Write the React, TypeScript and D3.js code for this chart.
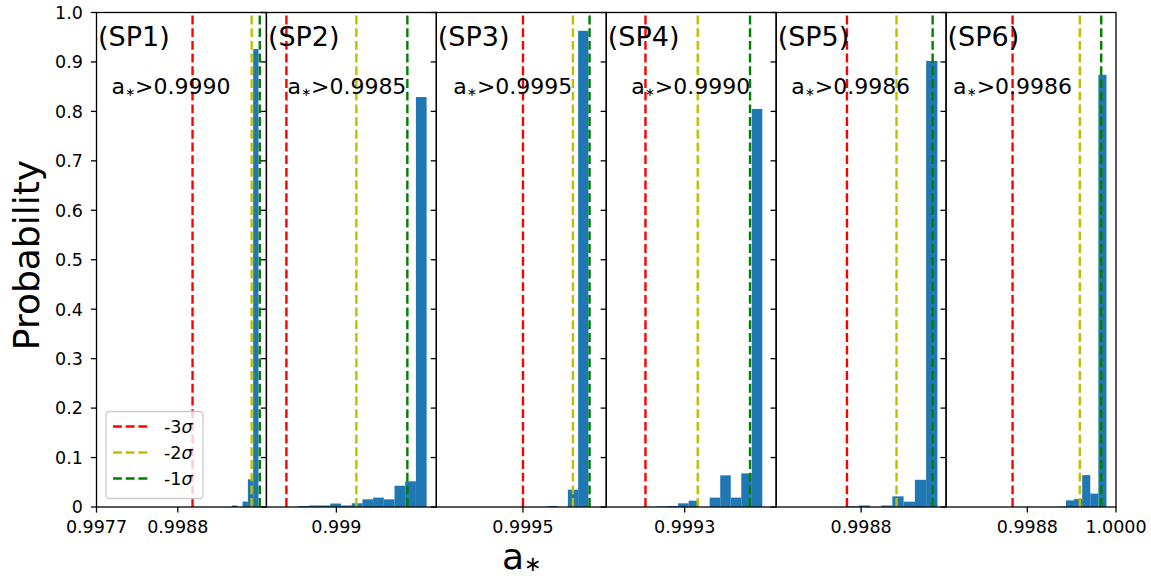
import React from 'react';
import * as d3 from 'd3';

// panel names and the a* cut printed in each panel
const panelNames = ['(SP1)', '(SP2)', '(SP3)', '(SP4)', '(SP5)', '(SP6)'];
const cutLabels = ['0.9990', '0.9985', '0.9995', '0.9990', '0.9986', '0.9986'];

// x limits of each panel
const xDomains: [number, number][] = [
  [0.9977, 1.0],
  [0.9983, 1.0],
  [0.99898, 1.0],
  [0.9987, 1.0],
  [0.9976, 1.0],
  [0.9977, 1.0],
];

// sigma lines
const sigma3 = [0.999, 0.9985, 0.9995, 0.999, 0.9986, 0.9986];
const sigma2 = [0.9998, 0.9992, 0.9998, 0.9994, 0.9993, 0.99951];
const sigma1 = [0.99991, 0.99971, 0.9999, 0.9998, 0.99981, 0.9998];

// histogram bins: first edge, bin width, probability per bin
const binStart = [0.999534, 0.998618, 0.999646, 0.999089, 0.998606, 0.999213];
const binWidth = [0.0000717, 0.00010706, 0.0000618, 0.0000805, 0.0001589, 0.0001097];
const probs: number[][] = [
  [0.003, 0, 0.011, 0.056, 0.926],
  [0.002, 0.003, 0.003, 0.007, 0.003, 0.0075, 0.0155, 0.019, 0.0155, 0.043, 0.052, 0.829],
  [0.002, 0, 0.035, 0.963],
  [0.001, 0.002, 0.0074, 0.0128, 0, 0.019, 0.064, 0.019, 0.068, 0.805],
  [0.001, 0.003, 0, 0.003, 0.0215, 0.0108, 0.055, 0.902],
  [0.001, 0.0134, 0.016, 0.0645, 0.027, 0.874],
];

// x ticks per panel
const xTickValues = [[0.9977, 0.9988], [0.999], [0.9995], [0.9993], [0.9988], [0.9988, 1.0]];
const xTickLabels = [['0.9977', '0.9988'], ['0.999'], ['0.9995'], ['0.9993'], ['0.9988'], ['0.9988', '1.0000']];

const yTickValues = [0, 0.1, 0.2, 0.3, 0.4, 0.5, 0.6, 0.7, 0.8, 0.9, 1.0];
const yTickLabels = ['0', '0.1', '0.2', '0.3', '0.4', '0.5', '0.6', '0.7', '0.8', '0.9', '1.0'];

const legendLabels = ['-3', '-2', '-1'];
const lineColors = ['#ff0000', '#bfbf00', '#008000'];

const W = 1151;
const H = 578;
const plotLeft = 96.5;
const plotRight = 1116;
const plotTop = 12.5;
const plotBottom = 507;
const tickLen = 5.6;
const tickFont = 17.5;
const cutOffsets = [15, 21, 17, 25, 15, 7];
const dash = '8.9,3.8';

export default function App() {
  const pw = (plotRight - plotLeft) / 6;
  const y = d3.scaleLinear().domain([0, 1]).range([plotBottom, plotTop]);
  const sigmas = [sigma3, sigma2, sigma1];

  return (
    <svg width={W} height={H} style={{ position: 'absolute', left: 0, top: 0 }} fontFamily="DejaVu Sans">
      <rect width={W} height={H} fill="#fff" />
      {panelNames.map((name, i) => {
        const x0 = plotLeft + i * pw;
        const x = d3.scaleLinear().domain(xDomains[i]).range([x0, x0 + pw]);
        return (
          <g key={name}>
            {probs[i].map((p, j) => {
              const a = binStart[i] + j * binWidth[i];
              const b = a + binWidth[i];
              return p > 0 ? (
                <rect key={j} x={x(a)} y={y(p)} width={x(b) - x(a)} height={y(0) - y(p)} fill="#1f77b4" />
              ) : null;
            })}
            {sigmas.map((s, k) => (
              <line key={k} x1={x(s[i])} x2={x(s[i])} y1={y(0)} y2={y(1)}
                stroke={lineColors[k]} strokeWidth={2.4} strokeDasharray={dash} />
            ))}
            <text x={x0 + 1.5} y={46} fontSize={27}>{name}</text>
            <text x={x0 + cutOffsets[i]} y={94} fontSize={22}>
              a<tspan fontSize={12} dy={1.5}>∗</tspan><tspan dy={-1.5}>&gt;{cutLabels[i]}</tspan>
            </text>
            <rect x={x0} y={plotTop} width={pw} height={plotBottom - plotTop}
              fill="none" stroke="#000" strokeWidth={1.3} />
            {yTickValues.map((v, k) => (
              <g key={k}>
                <line x1={x0 - tickLen} x2={x0} y1={y(v)} y2={y(v)} stroke="#000" strokeWidth={1.3} />
                {i === 0 && (
                  <text x={x0 - tickLen - 8} y={y(v)} dy="0.36em" textAnchor="end" fontSize={tickFont}>
                    {yTickLabels[k]}
                  </text>
                )}
              </g>
            ))}
            {xTickValues[i].map((v, k) => (
              <g key={k}>
                <line x1={x(v)} x2={x(v)} y1={plotBottom} y2={plotBottom + tickLen} stroke="#000" strokeWidth={1.3} />
                <text x={x(v)} y={plotBottom + tickLen + 5} dy="0.9em" textAnchor="middle" fontSize={tickFont}>
                  {xTickLabels[i][k]}
                </text>
              </g>
            ))}
          </g>
        );
      })}

      {/* legend */}
      <rect x={106} y={411.5} width={97} height={87} rx={3.5} fill="#fff" fillOpacity={0.8}
        stroke="#cccccc" strokeWidth={1.3} />
      {legendLabels.map((l, k) => {
        const ly = 426.5 + k * 26;
        return (
          <g key={l}>
            <line x1={113} x2={150} y1={ly} y2={ly} stroke={lineColors[k]} strokeWidth={2.4} strokeDasharray={dash} />
            <text x={164} y={ly} dy="0.36em" fontSize={tickFont}>
              {l}<tspan fontStyle="italic">σ</tspan>
            </text>
          </g>
        );
      })}

      <text transform="translate(39,255) rotate(-90)" textAnchor="middle" fontSize={36}>Probability</text>
      <text x={502} y={569} fontSize={36}>
        a<tspan fontSize={21} dy={2}>∗</tspan>
      </text>
    </svg>
  );
}
